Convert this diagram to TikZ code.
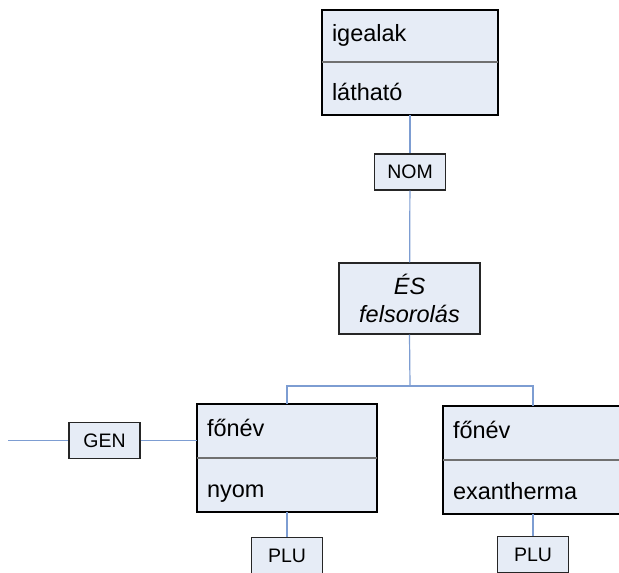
\documentclass[tikz,border=0pt]{standalone}
\usepackage{fontspec}
\setmainfont{Liberation Sans}
\usetikzlibrary{positioning}
\definecolor{boxfill}{RGB}{230,236,246}
\definecolor{linkblue}{RGB}{125,157,210}
\definecolor{divgray}{RGB}{112,112,112}
\begin{document}
\begin{tikzpicture}[x=1pt, y=-1pt, node distance=0pt]
        % Define block styles
        \tikzstyle{upper} = [rectangle, draw=black, line width=1.1pt, fill=boxfill, anchor=north west, outer sep=0pt, inner xsep=10pt, inner ysep=0pt, text width=160pt, align=left, minimum height=54pt, text height=17pt, text depth=6pt, font=\fontsize{23.5pt}{28pt}\selectfont]
        \tikzstyle{lower} = [upper, anchor=north, text height=24pt, text depth=0pt]
        \tikzstyle{group} = [rectangle, draw=black!85, line width=1.1pt, fill=boxfill, minimum width=141pt, minimum height=71pt, inner sep=0pt, align=center, font=\fontsize{23.5pt}{28pt}\selectfont\itshape]
        \tikzstyle{tag} = [rectangle, draw=black!85, line width=1.1pt, fill=boxfill, minimum width=71pt, minimum height=36pt, inner sep=0pt, font=\fontsize{19.5pt}{22pt}\selectfont]
        \tikzstyle{link} = [draw=linkblue, line width=1.2pt]

        \useasboundingbox (0,0) rectangle (619,573);

        % Place nodes
        \node [upper, text width=156pt, minimum height=52pt] (verbtop) at (322,10) {igealak};
        \node [lower, text width=156pt, minimum height=53pt, below=of verbtop] (verbbot) {látható};
        \node [tag] (nom) at (410,172) {NOM};
        \node [group] (es) at (409.5,298.5) {ÉS\\felsorolás};
        \coordinate (split) at (410,386);

        \node [upper] (noun1top) at (197,404) {főnév};
        \node [lower, below=of noun1top] (noun1bot) {nyom};
        \node [upper] (noun2top) at (443,406) {főnév};
        \node [lower, below=of noun2top] (noun2bot) {exantherma};

        \node [tag] (gen) at (104.5,440.5) {GEN};
        \coordinate (genend) at (8,440.5);
        \node [tag, below=25pt of noun1bot] (plu1) {PLU};
        \node [tag, below=22pt of noun2bot] (plu2) {PLU};

        % Dividers
        \foreach \n in {verbtop, noun1top, noun2top}
          \draw [divgray, line width=1.1pt] (\n.south west) -- (\n.south east);

        % Draw links
        \path [link] (verbbot) -- (nom);
        \path [link] (nom) -- (es);
        \path [link] (es.south) -- (split);
        \path [link] (split) -| (noun1top.north);
        \path [link] (split) -| (noun2top.north);
        \path [link] (genend) -- (gen.west);
        \path [link] (gen.east) -- (gen.east -| noun1top.west);
        \path [link] (noun1bot) -- (plu1);
        \path [link] (noun2bot) -- (plu2);
\end{tikzpicture}
\end{document}
